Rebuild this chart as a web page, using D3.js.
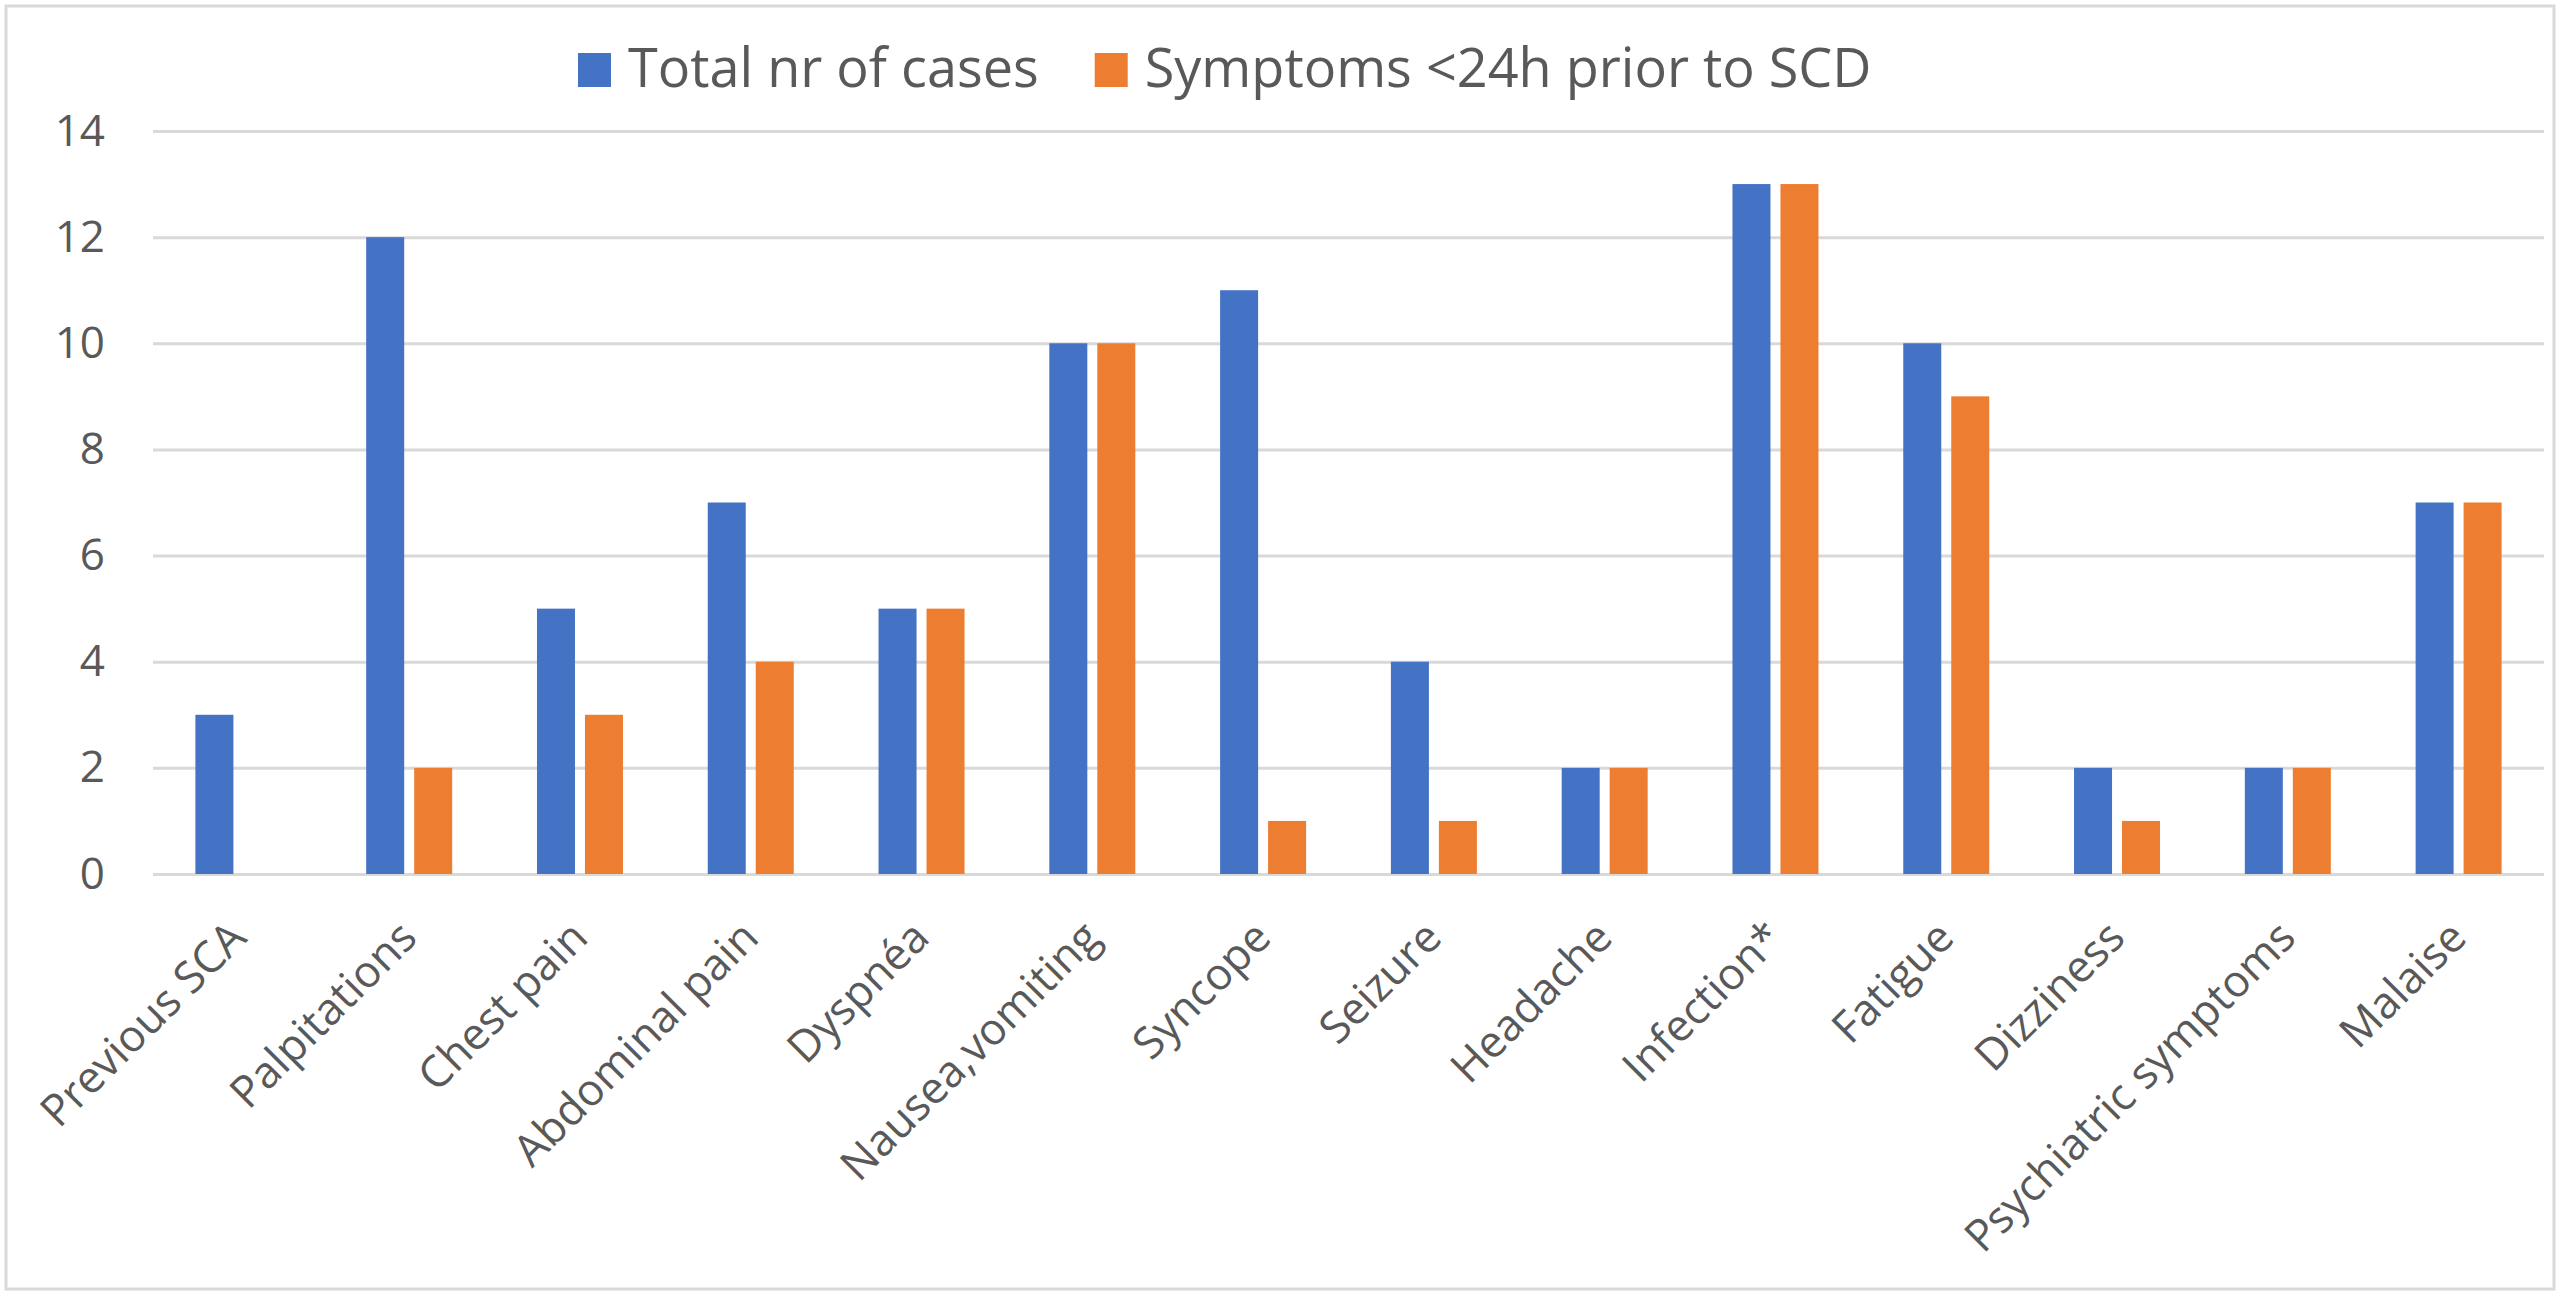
<!DOCTYPE html>
<html>
<head>
<meta charset="utf-8">
<script src="https://cdn.jsdelivr.net/npm/d3@7"></script>
<style>
  html, body { margin: 0; padding: 0; background: #fff; }
  svg { display: block; font-family: "Open Sans", "Noto Sans", sans-serif; }
</style>
</head>
<body>
<svg id="chart" width="2560" height="1295"></svg>
<script>
// chart data
const categories = ["Previous SCA", "Palpitations", "Chest pain", "Abdominal pain", "Dyspnéa",
  "Nausea,vomiting", "Syncope", "Seizure", "Headache", "Infection*", "Fatigue", "Dizziness",
  "Psychiatric symptoms", "Malaise"];
const totalCases = [3, 12, 5, 7, 5, 10, 11, 4, 2, 13, 10, 2, 2, 7];
const symptoms24h = [0, 2, 3, 4, 5, 10, 1, 1, 2, 13, 9, 1, 2, 7];
const seriesNames = ["Total nr of cases", "Symptoms <24h prior to SCD"];
const yTicks = [0, 2, 4, 6, 8, 10, 12, 14];

const colors = ["#4472C4", "#ED7D31"];
const textColor = "#595959";
const gridColor = "#d9d9d9";

let width = 2560,
    height = 1295,
    plotLeft = 153,
    plotRight = 2544,
    plotTop = 131,
    plotBottom = 874;

const svg = d3.select("#chart");

// outer border
svg.append("rect")
  .attr("x", 6).attr("y", 6)
  .attr("width", width - 12).attr("height", height - 12)
  .attr("fill", "#fff")
  .attr("stroke", gridColor)
  .attr("stroke-width", 3);

const x0 = d3.scaleBand()
  .domain(categories)
  .range([plotLeft, plotRight])
  .paddingInner(0)
  .paddingOuter(0);

const barW = x0.bandwidth() * 0.2225,
      barGap = x0.bandwidth() * 0.0585;

const y = d3.scaleLinear()
  .domain([0, 14])
  .range([plotBottom, plotTop]);

// gridlines + y labels
const yAxis = d3.axisLeft(y)
  .tickValues(yTicks)
  .tickSize(-(plotRight - plotLeft))
  .tickPadding(48);

const gy = svg.append("g")
  .attr("transform", "translate(" + plotLeft + ",0)")
  .call(yAxis);

gy.select(".domain").remove();
gy.selectAll(".tick line")
  .attr("stroke", gridColor)
  .attr("stroke-width", 3);
gy.selectAll(".tick text")
  .attr("fill", textColor)
  .style("font-size", "44px")
  .style("font-family", "'Open Sans', sans-serif");

// bars
const series = [totalCases, symptoms24h];
series.forEach((vals, s) => {
  svg.append("g")
    .selectAll("rect")
    .data(categories.map((c, i) => ({ cat: c, v: vals[i] })).filter(d => d.v > 0))
    .join("rect")
      .attr("x", d => {
        let c = x0(d.cat) + x0.bandwidth() / 2;
        return s === 0 ? c - barGap / 2 - barW : c + barGap / 2;
      })
      .attr("y", d => y(d.v))
      .attr("width", barW)
      .attr("height", d => y(0) - y(d.v))
      .attr("fill", colors[s]);
});

// x labels, rotated
const xAxis = d3.axisBottom(x0).tickSize(0).tickPadding(0);
const gx = svg.append("g")
  .attr("transform", "translate(0," + plotBottom + ")")
  .call(xAxis);

gx.select(".domain").remove();
gx.selectAll(".tick text")
  .attr("fill", textColor)
  .style("font-size", "44px")
  .style("font-family", "'Open Sans', sans-serif")
  .attr("text-anchor", "end")
  .attr("dy", null)
  .attr("y", null)
  .attr("transform", "translate(10,66) rotate(-45)");

// legend
const legend = svg.append("g");
let lx = 578;
seriesNames.forEach((name, i) => {
  legend.append("rect")
    .attr("x", lx).attr("y", 53)
    .attr("width", 33).attr("height", 34)
    .attr("fill", colors[i]);
  let t = legend.append("text")
    .attr("x", lx + 50).attr("y", 87)
    .attr("fill", textColor)
    .style("font-size", "54px")
    .text(name);
  lx = lx + 50 + t.node().getComputedTextLength() + 56;
});
</script>
</body>
</html>
